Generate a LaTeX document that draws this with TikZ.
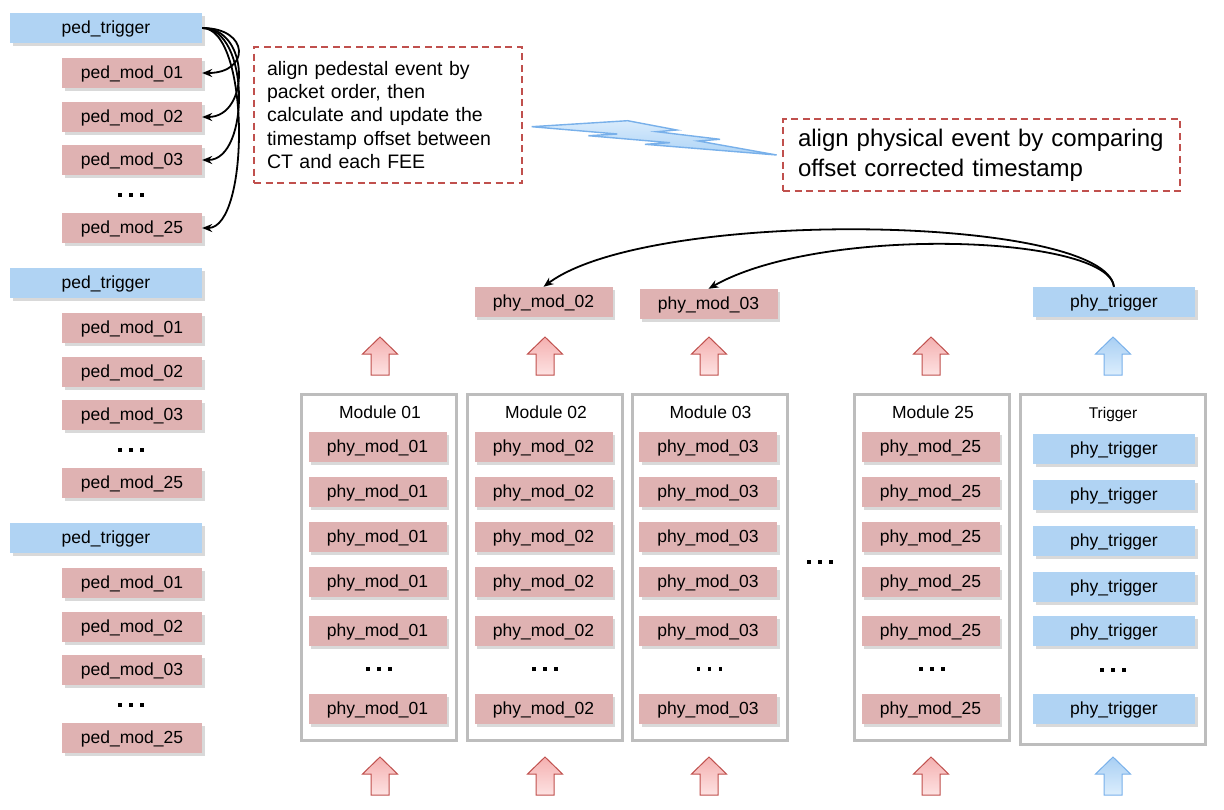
\documentclass[tikz,border=0pt]{standalone}
\usepackage{fontspec}
\setmainfont{Liberation Sans}
\usetikzlibrary{arrows.meta, positioning, shadows}
\definecolor{modpink}{HTML}{DFB2B2}
\definecolor{trigblue}{HTML}{B0D3F3}
\definecolor{framegray}{HTML}{BDBDBD}
\definecolor{notered}{HTML}{C0504D}
\definecolor{arrowtop}{HTML}{F4B0B0}
\definecolor{arrowbot}{HTML}{FDE2E2}
\definecolor{bluetop}{HTML}{A9CFF3}
\definecolor{bluebot}{HTML}{DCEEFD}
\definecolor{boltedge}{HTML}{78B0EA}
\definecolor{boltlight}{HTML}{D8EBFC}
\definecolor{boltdark}{HTML}{AED4F6}
\newcommand{\etcdots}{\rule{3.5pt}{3.5pt}\kern7.5pt\rule{3.5pt}{3.5pt}\kern7.5pt\rule{3.5pt}{3.5pt}}

\begin{document}
\begin{tikzpicture}[x=1pt, y=1pt, >={Stealth[length=10pt,width=8pt]}]
    \tikzstyle{box}=[rectangle, inner sep=0pt, minimum height=30pt, text height=13pt, text depth=2.5pt, font=\fontsize{17.5}{20}\selectfont, drop shadow={shadow xshift=2.5pt, shadow yshift=-2.5pt, opacity=.3}]
    \tikzstyle{ped mod}=[box, fill=modpink, minimum width=140pt]
    \tikzstyle{ped trig}=[box, fill=trigblue, minimum width=192pt]
    \tikzstyle{phy mod}=[box, fill=modpink, minimum width=138pt]
    \tikzstyle{phy trig}=[box, fill=trigblue, minimum width=162pt]
    \tikzstyle{module}=[rectangle, draw=framegray, line width=3pt, inner sep=0pt, minimum width=155pt, minimum height=346pt]
    \tikzstyle{mod title}=[font=\fontsize{17.5}{20}\selectfont]
    \tikzstyle{gap dots}=[inner sep=0pt]
    \tikzstyle{note}=[rectangle, draw=notered, line width=1.8pt, dash pattern=on 7pt off 4.5pt, align=left]
    \tikzstyle{red up}=[draw=notered, line width=1pt, top color=arrowtop, bottom color=arrowbot]
    \tikzstyle{blue up}=[draw=boltedge, line width=1pt, top color=bluetop, bottom color=bluebot]
    \tikzstyle{bolt}=[draw=boltedge, line width=1.4pt, top color=boltlight, bottom color=boltdark]
    \tikzstyle{link}=[->, line width=1.8pt]

    \useasboundingbox (0,0) rectangle (1224,-809);

%   pedestal packets, three times
	\foreach \g in {1,2,3}{
		\pgfmathsetmacro\gy{-28-255*(\g-1)}
		\node[ped trig] (pt-\g) at (106,\gy) {ped\_trigger};
		\node[ped mod] (pm-\g-01) at (132,\gy-45) {ped\_mod\_01};
		\node[ped mod] (pm-\g-02) at (132,\gy-89) {ped\_mod\_02};
		\node[ped mod] (pm-\g-03) at (132,\gy-132) {ped\_mod\_03};
		\node[gap dots] (pd-\g) at (131,\gy-167) {\etcdots};
		\node[ped mod] (pm-\g-25) at (132,\gy-200) {ped\_mod\_25};
	}

	\foreach \m in {01,02,03,25}
		\draw[link] (pt-1.east) .. controls +(48,0) and +(48,0) .. (pm-1-\m.east);

	\node[note, text width=242pt, inner xsep=13pt, minimum height=136pt, font=\fontsize{19.5}{23.3}\selectfont] (note-ped) at (388,-115)
		{align pedestal event by\\packet order, then\\calculate and update the\\timestamp offset between\\CT and each FEE};
	\node[note, text width=367pt, inner xsep=15pt, minimum height=72pt, font=\fontsize{24}{30}\selectfont] (note-phy) at (981.5,-155)
		{align physical event by comparing\\offset corrected timestamp};

	\draw[bolt] (531.7,-126.7) -- (627.7,-120.7) -- (676.7,-130) -- (656.7,-131.7) -- (720,-139.3) -- (698.3,-141)
		-- (776.7,-155) -- (645,-144.3) -- (670,-142.7) -- (588.3,-135.7) -- (617.3,-134) -- cycle;

%   physical packets per module
	\foreach \cx/\n in {379/01, 545/02, 709.5/03, 932/25}{
		\node[module] (M\n) at (\cx,-567.5) {};
		\node[mod title] (T\n) at (\cx+1,-412) {Module \n};
		\foreach \r/\ry in {1/447,2/492,3/537,4/582,5/631,6/709}
			\node[phy mod] (pm\n-\r) at (\cx-1.5,-\ry) {phy\_mod\_\n};
		\node[gap dots] (dots\n) at (\cx,-669) {\etcdots};
	}
	\node[gap dots] (dotsM) at (820,-562) {\etcdots};

	\node[module, minimum width=185pt, minimum height=350pt] (MT) at (1113,-569.5) {};
	\node[mod title, font=\fontsize{15.5}{18}\selectfont] (TT) at (1113,-414) {Trigger};
	\foreach \r/\ry in {1/449,2/495,3/541,4/587,5/631,6/709}
		\node[phy trig] (tr-\r) at (1114,-\ry) {phy\_trigger};
	\node[gap dots] (dotsT) at (1113,-670) {\etcdots};

%   aligned events
	\node[phy mod] (top02) at (543.5,-302) {phy\_mod\_02};
	\node[phy mod] (top03) at (708.5,-304) {phy\_mod\_03};
	\node[phy trig] (toptr) at (1114,-302) {phy\_trigger};

	\draw[link] (toptr.north) .. controls +(-9,72) and +(107,80) .. (top02.north);
	\draw[link] (toptr.north) .. controls +(-6,52) and +(112,64) .. (top03.north);

%   block arrows
	\foreach \ax in {380,545,709,931}
		\foreach \ay in {337,757}
			\draw[red up] (\ax,-\ay) -- ++(17.5,-17) -- ++(-8.5,0) -- ++(0,-21) -- ++(-18,0) -- ++(0,21) -- ++(-8.5,0) -- cycle;
	\foreach \ay in {337,757}
		\draw[blue up] (1113,-\ay) -- ++(17.5,-17) -- ++(-8.5,0) -- ++(0,-21) -- ++(-18,0) -- ++(0,21) -- ++(-8.5,0) -- cycle;
\end{tikzpicture}
\end{document}
